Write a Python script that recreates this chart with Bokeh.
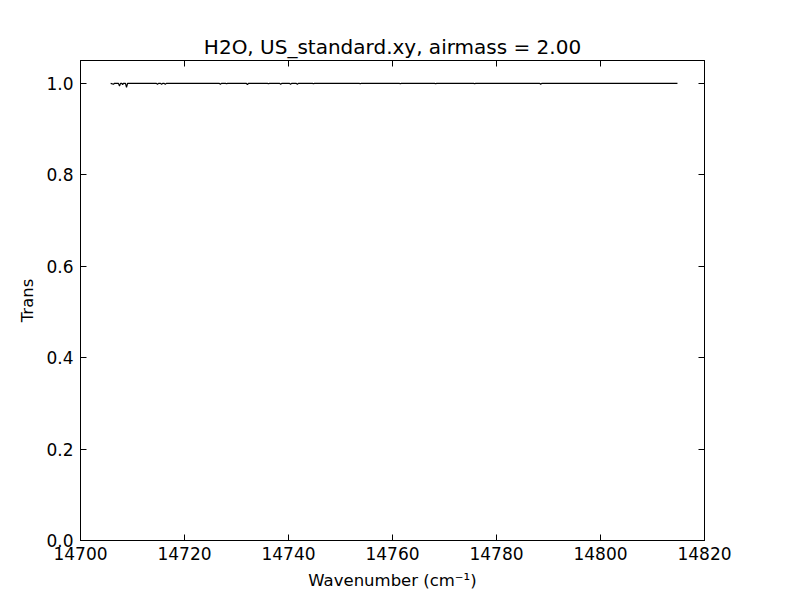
from bokeh.plotting import figure
from bokeh.models import Range1d, LinearAxis, FixedTicker, NumeralTickFormatter, CustomJSTickFormatter
from bokeh.embed import file_html
from bokeh.resources import INLINE

title_text = "H2O, US_standard.xy, airmass = 2.00"
x_label = "Wavenumber (cm\u207b\u00b9)"
y_label = "Trans"

x_ticks = [14700, 14720, 14740, 14760, 14780, 14800, 14820]
y_ticks = [0.0, 0.2, 0.4, 0.6, 0.8, 1.0]

wavenumber = [
    14705.8, 14706.35, 14706.5, 14707.3, 14707.5, 14707.7, 14707.95, 14708.1, 14708.25,
    14708.65, 14708.85, 14709.05, 14714.6, 14714.8, 14715.0, 14715.4, 14715.6, 14715.8,
    14716.1, 14716.3, 14716.5, 14726.7, 14726.9, 14727.1, 14727.9, 14728.1, 14728.3,
    14731.9, 14732.1, 14732.3, 14735.95, 14736.15, 14736.35, 14738.3, 14738.5, 14738.7,
    14740.2, 14740.4, 14740.6, 14741.5, 14741.7, 14741.9, 14744.6, 14744.8, 14745.0,
    14753.6, 14753.8, 14754.0, 14761.3, 14761.5, 14761.7, 14768.1, 14768.3, 14768.5,
    14775.6, 14775.8, 14776.0, 14788.3, 14788.5, 14788.7, 14814.8,
]
transmission = [
    1.000, 0.998, 1.000, 1.000, 0.994, 1.000, 1.000, 0.997, 1.000,
    1.000, 0.991, 1.000, 1.000, 0.998, 1.000, 1.000, 0.998, 1.000,
    1.000, 0.998, 1.000, 1.000, 0.998, 1.000, 1.000, 0.999, 1.000,
    1.000, 0.997, 1.000, 1.000, 0.999, 1.000, 1.000, 0.998, 1.000,
    1.000, 0.998, 1.000, 1.000, 0.998, 1.000, 1.000, 0.999, 1.000,
    1.000, 0.999, 1.000, 1.000, 0.999, 1.000, 1.000, 0.999, 1.000,
    1.000, 0.999, 1.000, 1.000, 0.998, 1.000, 1.000,
]

FONT = "DejaVu Sans"

p = figure(
    width=792, height=592,
    frame_width=624, frame_height=480,
    min_border_left=80, min_border_right=88, min_border_top=60, min_border_bottom=52,
    x_range=Range1d(14700, 14820), y_range=Range1d(0, 1.05),
    output_backend="svg", toolbar_location=None,
    title=title_text,
)
p.title.align = "center"
p.title.text_font = FONT
p.title.text_font_size = "20px"
p.title.text_font_style = "normal"
p.title.text_color = "black"
p.title.standoff = 4

p.line(wavenumber, transmission, line_color="black", line_width=1.2)

p.xgrid.visible = False
p.ygrid.visible = False
p.outline_line_color = "black"
p.outline_line_width = 1
p.background_fill_color = "white"
p.border_fill_color = "white"

def style_axis(ax):
    ax.major_tick_in = 6
    ax.major_tick_out = 0
    ax.minor_tick_in = 0
    ax.minor_tick_out = 0
    ax.axis_line_color = "black"
    ax.major_tick_line_color = "black"
    ax.major_label_text_font = FONT
    ax.major_label_text_font_size = "17px"
    ax.major_label_text_color = "black"
    ax.axis_label_text_font = FONT
    ax.axis_label_text_font_size = "16.5px"
    ax.axis_label_text_font_style = "normal"
    ax.axis_label_text_color = "black"
    ax.major_label_standoff = 7

xa = p.xaxis[0]
xa.ticker = FixedTicker(ticks=x_ticks)
xa.axis_label = x_label
style_axis(xa)
xa.major_label_standoff = 6
xa.axis_label_standoff = 8

ya = p.yaxis[0]
ya.ticker = FixedTicker(ticks=y_ticks)
ya.formatter = NumeralTickFormatter(format="0.0")
ya.axis_label = y_label
style_axis(ya)
ya.axis_label_standoff = 6

blank = CustomJSTickFormatter(code="return '';")
ra = LinearAxis(ticker=FixedTicker(ticks=y_ticks), formatter=blank)
style_axis(ra)
p.add_layout(ra, "right")
ta = LinearAxis(ticker=FixedTicker(ticks=x_ticks), formatter=blank)
style_axis(ta)
p.add_layout(ta, "above")

open("out.html", "w").write(file_html(p, INLINE))
